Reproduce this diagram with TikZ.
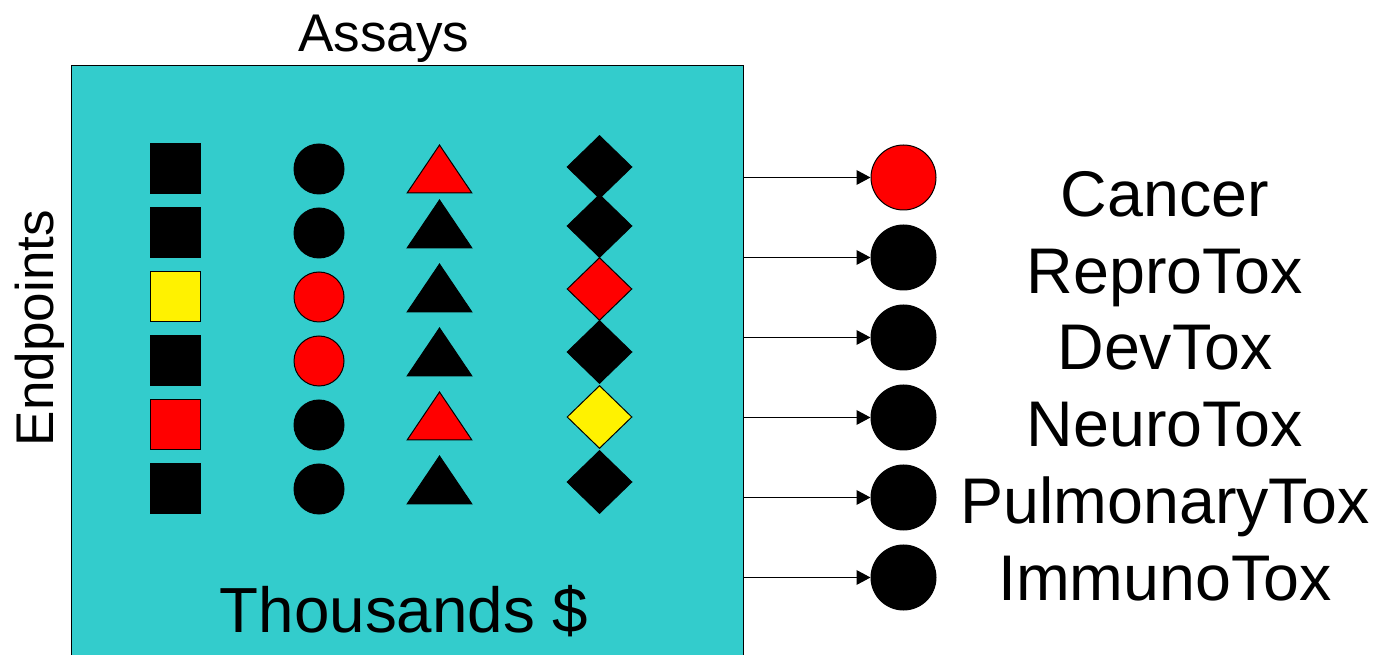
\documentclass[tikz,border=0pt]{standalone}
\usepackage{fontspec}
\setmainfont{Liberation Sans}
\usepackage{xcolor}
\usetikzlibrary{arrows.meta,shapes.geometric}

\definecolor{assaybg}{HTML}{33CCCC}

\tikzset{
  assaybox/.style={rectangle,draw=black,line width=1pt,fill=assaybg,anchor=north west,
    minimum width=504pt,minimum height=465pt,inner sep=0pt},
  sqr/.style={rectangle,draw=black,line width=0.75pt,minimum size=37.5pt,inner sep=0pt},
  rnd/.style={circle,draw=black,line width=0.75pt,minimum size=37.5pt,inner sep=0pt},
  tri/.style={isosceles triangle,isosceles triangle apex angle=68,shape border rotate=90,
    draw=black,line width=0.75pt,minimum size=36pt,inner sep=0pt,outer sep=0pt,anchor=apex},
  dmd/.style={diamond,aspect=1,draw=black,line width=0.75pt,minimum width=48.75pt,
    minimum height=47.25pt,inner sep=0pt},
  endpt/.style={circle,draw=black,line width=0.75pt,minimum size=48.75pt,inner sep=0pt},
  lbl/.style={anchor=base,inner sep=0pt,font=\fontsize{48.4pt}{52pt}\selectfont},
  feed/.style={draw=black,line width=1pt,-{Triangle[length=10.5pt,width=11pt]}}
}

\begin{document}
\begin{tikzpicture}[x=0.75pt,y=0.75pt,yscale=-1,xscale=1]
\useasboundingbox (0,0) rectangle (1378,655);
\clip (0,0) rectangle (1378,655);

% assay panel, runs off the bottom edge
\node[assaybox] (grid) at (71,65) {};

% squares
\node[sqr,fill=black]  (sq1) at (175,169) {};
\node[sqr,fill=black]  (sq2) at (175,233) {};
\node[sqr,fill=yellow] (sq3) at (175,297) {};
\node[sqr,fill=black]  (sq4) at (175,361) {};
\node[sqr,fill=red]    (sq5) at (175,425) {};
\node[sqr,fill=black]  (sq6) at (175,489) {};

% circles
\node[rnd,fill=black] (rd1) at (319,169) {};
\node[rnd,fill=black] (rd2) at (319,233) {};
\node[rnd,fill=red]   (rd3) at (319,297) {};
\node[rnd,fill=red]   (rd4) at (319,361) {};
\node[rnd,fill=black] (rd5) at (319,425) {};
\node[rnd,fill=black] (rd6) at (319,489) {};

% triangles (placed by their apex)
\node[tri,fill=red]   (tr1) at (439.5,145) {};
\node[tri,fill=black] (tr2) at (439.5,200) {};
\node[tri,fill=black] (tr3) at (439.5,264) {};
\node[tri,fill=black] (tr4) at (439.5,328) {};
\node[tri,fill=red]   (tr5) at (439.5,392) {};
\node[tri,fill=black] (tr6) at (439.5,456) {};

% diamonds
\node[dmd,fill=black]  (dm1) at (599.5,167) {};
\node[dmd,fill=black]  (dm2) at (599.5,226) {};
\node[dmd,fill=red]    (dm3) at (599.5,289) {};
\node[dmd,fill=black]  (dm4) at (599.5,352) {};
\node[dmd,fill=yellow] (dm5) at (599.5,417) {};
\node[dmd,fill=black]  (dm6) at (599.5,482) {};

% endpoint circles
\node[endpt,fill=red]   (ep1) at (903.5,177.5) {};
\node[endpt,fill=black] (ep2) at (903.5,257.5) {};
\node[endpt,fill=black] (ep3) at (903.5,337.5) {};
\node[endpt,fill=black] (ep4) at (903.5,417.5) {};
\node[endpt,fill=black] (ep5) at (903.5,497.5) {};
\node[endpt,fill=black] (ep6) at (903.5,577.5) {};

% arrows out of the panel
\draw[feed] (grid.east |- ep1) -- (ep1);
\draw[feed] (grid.east |- ep2) -- (ep2);
\draw[feed] (grid.east |- ep3) -- (ep3);
\draw[feed] (grid.east |- ep4) -- (ep4);
\draw[feed] (grid.east |- ep5) -- (ep5);
\draw[feed] (grid.east |- ep6) -- (ep6);

% endpoint names
\node[lbl] (lcancer) at (1165,216.7) {Cancer};
\node[lbl] (lrepro)  at (1165,293.3) {ReproTox};
\node[lbl] (ldev)    at (1165,370)   {DevTox};
\node[lbl] (lneuro)  at (1165,446.7) {NeuroTox};
\node[lbl] (lpulm)   at (1165,523.3) {PulmonaryTox};
\node[lbl] (limmuno) at (1165,600)   {ImmunoTox};

% axis titles
\node[lbl,font=\fontsize{39.8pt}{44pt}\selectfont] (assays) at (384,52) {Assays};
\node[lbl,font=\fontsize{39.8pt}{44pt}\selectfont,rotate=90] (endpoints) at (53,328) {Endpoints};
\node[lbl,font=\fontsize{47.8pt}{52pt}\selectfont] (cost) at (404,632.7) {Thousands \$};

\end{tikzpicture}
\end{document}
